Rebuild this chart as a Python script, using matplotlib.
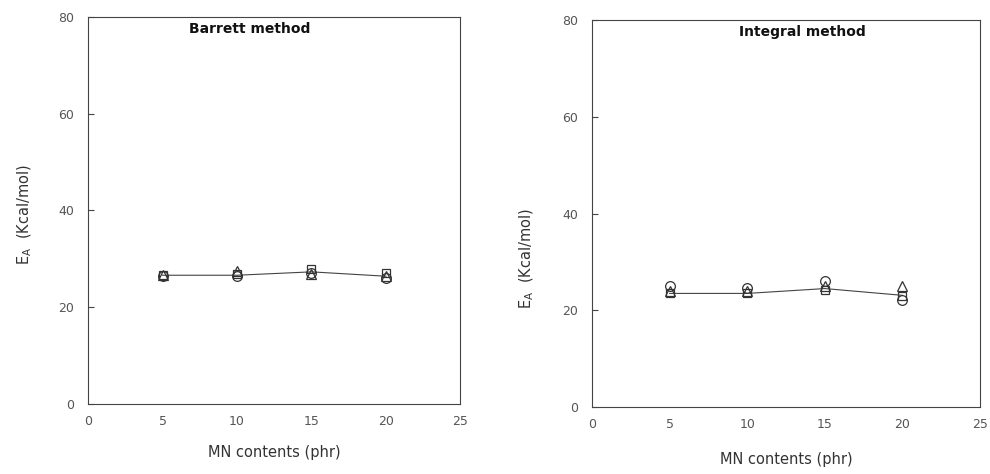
import matplotlib.pyplot as plt

# MN contents (phr)
mn = [5, 10, 15, 20]

# Barrett method, E_A (Kcal/mol)
barrett_circle = [26.4, 26.4, 27.0, 26.0]
barrett_square = [26.6, 26.8, 27.8, 27.0]
barrett_triangle = [26.6, 27.4, 26.8, 26.4]
barrett_line = [26.6, 26.6, 27.3, 26.4]

# Integral method, E_A (Kcal/mol)
integral_circle = [25.0, 24.7, 26.1, 22.1]
integral_square = [23.5, 23.5, 24.3, 22.9]
integral_triangle = [23.9, 24.1, 25.1, 25.1]
integral_line = [23.5, 23.5, 24.5, 23.1]

xticks = [0, 5, 10, 15, 20, 25]
yticks = [0, 20, 40, 60, 80]

txt = "#333333"
plt.rcParams["font.family"] = ["DejaVu Sans"]

fig = plt.figure(figsize=(9.9, 4.74), dpi=100)
ax1 = fig.add_axes([0.089, 0.148, 0.376, 0.816])
ax2 = fig.add_axes([0.598, 0.141, 0.392, 0.817])


def draw(ax, title, tx, line, circ, sq, tri, ylab_y, xlab_pad):
    ax.plot(mn, line, color="#444444", lw=0.8)
    ms = 7
    ax.plot(mn, circ, "o", mfc="none", mec="#333333", ms=ms, mew=0.9)
    ax.plot(mn, sq, "s", mfc="none", mec="#333333", ms=ms - 1, mew=0.9)
    ax.plot(mn, tri, "^", mfc="none", mec="#333333", ms=ms, mew=0.9)
    ax.set_xlim(0, 25)
    ax.set_ylim(0, 80)
    ax.set_xticks(xticks)
    ax.set_yticks(yticks)
    ax.tick_params(axis="x", length=0, pad=8, labelsize=9, labelcolor="#555555")
    ax.tick_params(axis="y", direction="in", length=4, pad=10, labelsize=9,
                   labelcolor="#555555", color="#444444")
    for s in ax.spines.values():
        s.set_linewidth(0.8)
        s.set_color("#444444")
    ax.set_xlabel("MN contents (phr)", fontsize=10.5, color=txt, labelpad=xlab_pad)
    ax.set_ylabel("E$_\\mathregular{A}$  (Kcal/mol)", fontsize=10.5, color=txt)
    ax.yaxis.set_label_coords(-0.145, ylab_y)
    ax.text(tx, 77.5, title, fontsize=10, fontweight="bold", color="#111111",
            va="center")


draw(ax1, "Barrett method", 6.8, barrett_line, barrett_circle, barrett_square,
     barrett_triangle, 0.49, 12)
draw(ax2, "Integral method", 9.5, integral_line, integral_circle, integral_square,
     integral_triangle, 0.385, 15)

fig.savefig("out.png", dpi=100)
